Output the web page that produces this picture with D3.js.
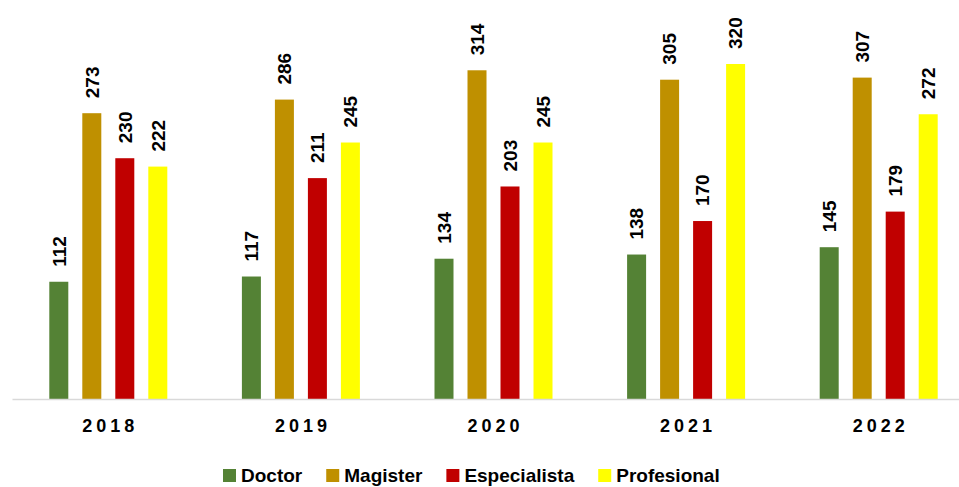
<!DOCTYPE html>
<html>
<head>
<meta charset="utf-8">
<script src="https://cdn.jsdelivr.net/npm/d3@7"></script>
<style>
  html, body { margin: 0; padding: 0; background: #fff; }
  svg { display: block; font-family: 'Liberation Sans', Arial, sans-serif; }
</style>
</head>
<body>
<div id="svg-container"></div>
<script>
// data
const years = ['2018', '2019', '2020', '2021', '2022']
const seriesNames = ['Doctor', 'Magister', 'Especialista', 'Profesional']
const doctor = [112, 117, 134, 138, 145]
const magister = [273, 286, 314, 305, 307]
const especialista = [230, 211, 203, 170, 179]
const profesional = [222, 245, 245, 320, 272]
const seriesColors = ['#548235', '#BF9000', '#C00000', '#FFFF00']

const width = 959
const height = 487
const baseline = 399

const seriesValues = [doctor, magister, especialista, profesional]
const rows = years.map((y, i) => ({
  year: y,
  values: seriesNames.map((s, j) => ({ key: s, value: seriesValues[j][i] })),
}))

const svg = d3
  .select('#svg-container')
  .append('svg')
  .attr('width', width)
  .attr('height', height)
  .attr('viewBox', `0 0 ${width} ${height}`)

const xScale = d3.scaleBand().domain(years).range([12, 975])
// inner scale: bars 19 wide, 33 pitch
const innerScale = d3
  .scaleBand()
  .domain(seriesNames)
  .range([0, 132])
  .paddingInner(14 / 33)
  .paddingOuter(7 / 33)

const yScale = d3.scaleLinear().domain([0, 320]).range([baseline, 64])
const color = d3.scaleOrdinal().domain(seriesNames).range(seriesColors)

const groups = svg
  .append('g')
  .selectAll('g')
  .data(rows)
  .join('g')
  .attr('transform', d => `translate(${xScale(d.year) + xScale.bandwidth() / 2 - 66}, 0)`)

groups
  .selectAll('rect')
  .data(d => d.values)
  .join('rect')
  .attr('x', d => innerScale(d.key))
  .attr('width', innerScale.bandwidth())
  .attr('y', d => yScale(d.value))
  .attr('height', d => baseline - yScale(d.value))
  .attr('fill', d => color(d.key))

groups
  .selectAll('text')
  .data(d => d.values)
  .join('text')
  .attr(
    'transform',
    d => `translate(${innerScale(d.key) + innerScale.bandwidth() / 2}, ${yScale(d.value) - 15}) rotate(-90)`,
  )
  .attr('dy', '0.36em')
  .attr('font-size', 19)
  .attr('font-weight', 'bold')
  .attr('fill', '#000')
  .text(d => d.value)

// axis
const xAxis = svg
  .append('g')
  .attr('transform', `translate(0, ${baseline})`)
  .call(d3.axisBottom(xScale).tickSize(0).tickPadding(20))
xAxis.select('.domain').attr('stroke', '#d9d9d9').attr('stroke-width', 1.5)
xAxis
  .selectAll('.tick text')
  .attr('font-family', "'Liberation Sans', Arial, sans-serif")
  .attr('font-size', 18)
  .attr('font-weight', 'bold')
  .attr('letter-spacing', '4px')
  .attr('fill', '#000')
  .attr('dx', '2px')

// legend
const legend = svg.append('g').attr('transform', 'translate(223, 0)')
let lx = 0
seriesNames.forEach(name => {
  const item = legend.append('g').attr('transform', `translate(${lx}, 0)`)
  item
    .append('rect')
    .attr('x', 0)
    .attr('y', 469)
    .attr('width', 13)
    .attr('height', 13)
    .attr('fill', color(name))
  const t = item
    .append('text')
    .attr('x', 18)
    .attr('y', 482)
    .attr('font-size', 19)
    .attr('font-weight', 'bold')
    .attr('fill', '#000')
    .text(name)
  lx += 18 + t.node().getComputedTextLength() + 24
})
</script>
</body>
</html>
